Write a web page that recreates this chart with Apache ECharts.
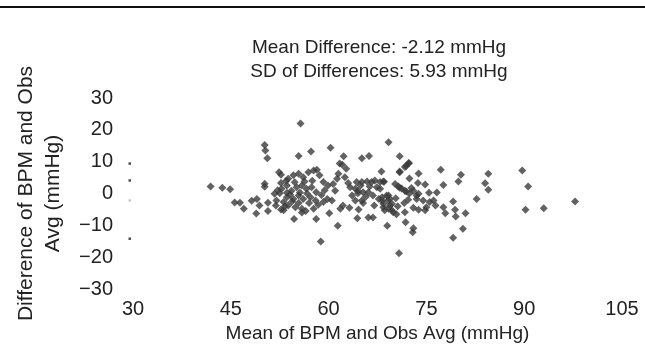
<!DOCTYPE html>
<html>
<head>
<meta charset="utf-8">
<script src="https://cdn.jsdelivr.net/npm/echarts@6/dist/echarts.min.js"></script>
<style>html,body{margin:0;padding:0;background:#fff;}#c{width:645px;height:356px;}</style>
</head>
<body>
<div id="c"></div>
<script>
var titleLines = ['Mean Difference: -2.12 mmHg', 'SD of Differences: 5.93 mmHg'];
var xName = 'Mean of BPM and Obs Avg (mmHg)';
var yName = 'Difference of BPM and Obs\nAvg (mmHg)';
var xTicks = [30, 45, 60, 75, 90, 105];
var yTicks = [-30, -20, -10, 0, 10, 20, 30];

var points = [
[41.9,2.2],[43.7,1.8],[44.9,1.3],
[45.6,-2.8],[46.4,-2.9],[47.0,-4.8],
[48.2,-2.3],[49.0,-1.7],[49.4,-3.8],[48.9,-6.3],
[50.2,15.2],[50.3,13.5],[50.6,11.1],
[50.2,3.1],[50.2,2.1],
[50.7,-2.9],[50.7,-5.5],
[51.7,-0.1],[52.5,0.1],[52.0,-2.2],[53.1,-2.7],[52.7,-5.0],
[52.4,6.7],[52.7,5.9],[52.7,3.3],
[52.8,1.5],[53.6,2.5],[54.3,0.9],[55.1,2.0],[55.9,2.5],[56.6,1.5],[57.4,2.0],[58.1,0.4],
[53.6,-1.2],[54.6,-1.7],[55.4,-0.6],[56.1,-1.7],[57.2,-1.2],[58.0,-2.2],
[53.8,-3.8],[54.9,-4.3],[55.9,-4.8],[53.1,-5.3],[57.7,-4.8],
[53.8,4.6],[54.6,5.7],[55.4,6.2],[56.1,5.1],[56.9,6.7],[57.7,7.2],[58.2,7.5],[58.6,5.7],
[55.7,22.0],[55.4,11.8],[57.3,13.2],[60.3,14.4],[62.3,11.7],
[61.7,9.4],[62.1,9.0],[62.7,7.8],
[59.2,3.6],[59.9,2.5],[60.7,3.0],[61.3,4.6],[61.5,6.2],[61.0,0.9],
[62.5,5.1],[63.3,2.0],[64.1,1.5],[64.5,0.9],
[59.2,-2.7],[59.8,-1.7],[60.5,-2.2],[61.8,-4.8],[62.2,-3.8],
[58.1,-8.0],[54.7,-8.0],[60.1,-6.2],[61.4,-10.1],[58.8,-15.1],[64.4,-7.8],
[63.6,-0.6],[64.1,-2.2],
[65.1,11.1],[66.2,11.8],[69.2,16.1],[70.9,11.7],[72.3,9.5],[71.7,8.3],
[68.1,6.9],[70.9,6.7],[73.8,6.3],[72.4,4.7],[68.5,3.7],[73.7,3.3],[74.8,2.8],
[64.3,3.6],[65.1,3.6],[65.9,3.8],[66.6,3.6],[67.1,4.1],[67.4,2.0],[64.5,0.1],[65.3,0.4],[66.1,0.4],
[65.1,-2.2],[65.3,-3.0],
[70.2,3.0],[70.9,1.8],[71.7,0.9],[73.0,0.9],[73.5,-0.6],
[67.7,-1.7],[68.2,-2.2],[68.9,-0.6],[69.4,-1.7],[69.7,-3.2],[69.2,-4.8],[68.6,-5.3],[68.4,-4.3],
[70.4,-6.5],[71.7,-5.9],
[66.1,-7.5],[66.8,-7.5],
[69.0,-10.1],[71.8,-9.0],[73.0,-10.9],[72.9,-12.2],[70.8,-18.8],
[69.9,-5.9],
[73.0,-4.5],[73.8,-5.1],[74.8,-5.3],
[73.8,-0.1],[73.5,-1.7],
[74.5,-2.2],[75.5,-2.7],[76.4,-3.8],[75.0,-4.3],[76.1,-2.2],
[76.6,0.3],[75.4,0.2],
[77.6,-4.3],[77.9,-6.2],[79.1,-2.5],[79.4,-5.1],[79.5,-7.2],[81.0,-6.2],[80.6,-11.1],[79.1,-13.9],
[77.2,7.5],[77.6,2.7],[80.3,5.9],[79.9,3.8],
[84.5,6.2],[84.0,3.2],[84.5,1.2],[82.7,-1.7],
[89.7,7.2],[90.6,2.2],[90.2,-5.1],[93.0,-4.6],[97.8,-2.5],
[70.7,2.2],[71.2,1.6],[71.9,0.6],[72.4,0.0],[72.7,1.7],
[67.9,1.5],[68.2,-1.2],[69.2,-0.6],[68.4,-3.2],[69.4,-3.8],[69.7,-5.3],
[72.3,9.6],[71.9,8.6],[70.9,6.9],[68.4,3.8],
[67.9,3.6],[69.1,-2.2],
[52.2,1.0],[54.1,-0.3],[54.8,3.5],[55.6,0.3],[56.3,3.8],[57.0,-3.0],[54.4,-2.5],[53.3,-4.0],
[55.4,-3.0],[56.7,0.0],[57.5,4.0],[53.6,0.2],[55.9,-6.0],[56.5,-5.5],[58.4,-3.5],[58.9,-0.5],
[59.4,1.0],[51.9,-3.8],[53.5,4.0],[64.9,2.5],[66.3,2.2],[65.7,-1.0],[66.8,-0.6],[63.2,-4.5],
[64.6,-5.0],[63.0,3.3],[67.0,-3.8],[70.3,-1.5],[71.6,-3.0],[72.2,-2.0],[70.6,-4.0]
];
var edgeDots = [[29.5,9.4],[29.5,4.1],[29.5,-14.2]];
var edgeFaint = [[29.5,-2.2]];

var FONT = '"Liberation Sans", Arial, Helvetica, sans-serif';
var AX = 20;
var chart = echarts.init(document.getElementById('c'), null, {renderer: 'canvas'});
chart.setOption({
  animation: false,
  backgroundColor: '#ffffff',
  title: {
    text: titleLines.join('\n'),
    left: 374, top: 31, textAlign: 'center',
    textStyle: {fontFamily: FONT, fontSize: 19, fontWeight: 'normal', color: '#222', lineHeight: 24}
  },
  graphic: [{
    type: 'line', shape: {x1: 0, y1: 7, x2: 645, y2: 7},
    style: {stroke: '#111', lineWidth: 2}
  }],
  grid: {left: 133, right: 23, top: 98, bottom: 67, containLabel: false},
  xAxis: {
    type: 'value', min: xTicks[0], max: xTicks[xTicks.length - 1], interval: 15,
    name: xName, nameLocation: 'middle', nameGap: 34,
    nameTextStyle: {fontFamily: FONT, fontSize: 19, color: '#222'},
    axisLine: {show: false}, axisTick: {show: false}, splitLine: {show: false},
    axisLabel: {fontFamily: FONT, fontSize: AX, color: '#222', margin: 10}
  },
  yAxis: {
    type: 'value', min: yTicks[0], max: yTicks[yTicks.length - 1], interval: 10,
    name: yName, nameLocation: 'middle', nameGap: 66, nameRotate: 90,
    nameTextStyle: {fontFamily: FONT, fontSize: 21, color: '#222', lineHeight: 27},
    axisLine: {show: false}, axisTick: {show: false}, splitLine: {show: false},
    axisLabel: {fontFamily: FONT, fontSize: AX, color: '#222', margin: 20,
      formatter: function (v) { return v < 0 ? '\u2212' + Math.abs(v) : String(v); }}
  },
  series: [{
    type: 'scatter', data: points, symbol: 'diamond', symbolSize: 8,
    itemStyle: {color: '#3b3b3b'}
  }, {
    type: 'scatter', data: edgeDots, symbol: 'rect', symbolSize: 2.5, clip: false,
    itemStyle: {color: '#222'}
  }, {
    type: 'scatter', data: edgeFaint, symbol: 'rect', symbolSize: 2.5, clip: false,
    itemStyle: {color: '#bbb'}
  }]
});
</script>
</body>
</html>
